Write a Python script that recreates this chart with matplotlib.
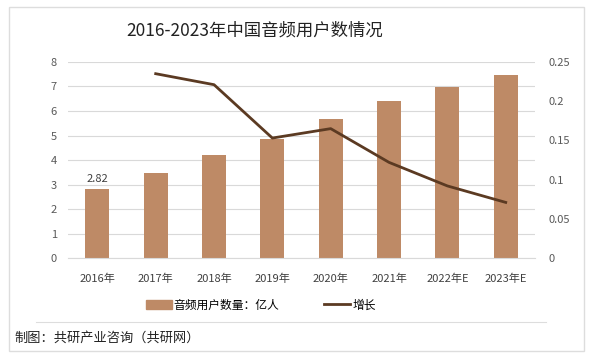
import matplotlib.pyplot as plt
from matplotlib.patches import Rectangle
from matplotlib.lines import Line2D

plt.rcParams['font.family'] = ['Noto Sans CJK SC', 'DejaVu Sans']

years = ['2016年', '2017年', '2018年', '2019年', '2020年', '2021年', '2022年E', '2023年E']
users = [2.82, 3.46, 4.22, 4.87, 5.68, 6.40, 6.98, 7.47]
growth = [None, 0.235, 0.221, 0.153, 0.165, 0.122, 0.092, 0.071]

bar_color = '#BE8A66'
line_color = '#5B3A22'

fig = plt.figure(figsize=(5.93, 3.58), dpi=100)
fig.patches.append(Rectangle((0.015, 0.02), 0.97, 0.96, transform=fig.transFigure,
                             fill=False, edgecolor='#DDDDDD', linewidth=1.0))

ax = fig.add_axes([0.115, 0.279, 0.787, 0.548])
x = range(len(years))
ax.bar(x, users, width=0.41, color=bar_color, zorder=2)
ax.set_ylim(0, 8)
ax.set_xlim(-0.5, len(years) - 0.5)
ax.set_yticks(range(0, 9))
ax.grid(axis='y', color='#D9D9D9', linewidth=0.8, zorder=0)
ax.set_xticks(list(x))
ax.set_xticklabels(years, fontsize=8, color='#404040')
ax.tick_params(axis='y', length=0, labelsize=8, colors='#595959', pad=8)
ax.tick_params(axis='x', length=0, labelsize=8, colors='#404040', pad=11)
for s in ax.spines.values():
    s.set_visible(False)
ax.spines['bottom'].set_visible(True)
ax.spines['bottom'].set_color('#D9D9D9')
ax.text(0, users[0] + 0.2, '%.2f' % users[0], ha='center', va='bottom', fontsize=8, color='#404040')

ax2 = ax.twinx()
gx = [i for i, g in enumerate(growth) if g is not None]
gy = [g for g in growth if g is not None]
ax2.plot(gx, gy, color=line_color, linewidth=2.0, zorder=3)
ax2.set_ylim(0, 0.25)
ax2.set_yticks([0, 0.05, 0.1, 0.15, 0.2, 0.25])
ax2.set_yticklabels(['0', '0.05', '0.1', '0.15', '0.2', '0.25'])
ax2.tick_params(axis='y', length=0, labelsize=8, colors='#595959', pad=10)
for s in ax2.spines.values():
    s.set_visible(False)

fig.text(0.43, 0.915, '2016-2023年中国音频用户数情况', ha='center', va='center', fontsize=12.5, color='#222222')

handles = [Rectangle((0, 0), 1, 1, color=bar_color),
           Line2D([0], [0], color=line_color, linewidth=2)]
fig.legend(handles, ['音频用户数量：亿人', '增长'], loc='center', bbox_to_anchor=(0.44, 0.148),
           ncol=2, frameon=False, fontsize=8.5, handlelength=2.2, handletextpad=0.2, columnspacing=3.8)

fig.add_artist(Line2D([0.06, 0.92], [0.1, 0.1], transform=fig.transFigure, color='#DDDDDD', linewidth=0.8))
fig.text(0.025, 0.055, '制图：共研产业咨询（共研网）', ha='left', va='center', fontsize=9.5, color='#222222')

fig.savefig('out.png', dpi=100)
